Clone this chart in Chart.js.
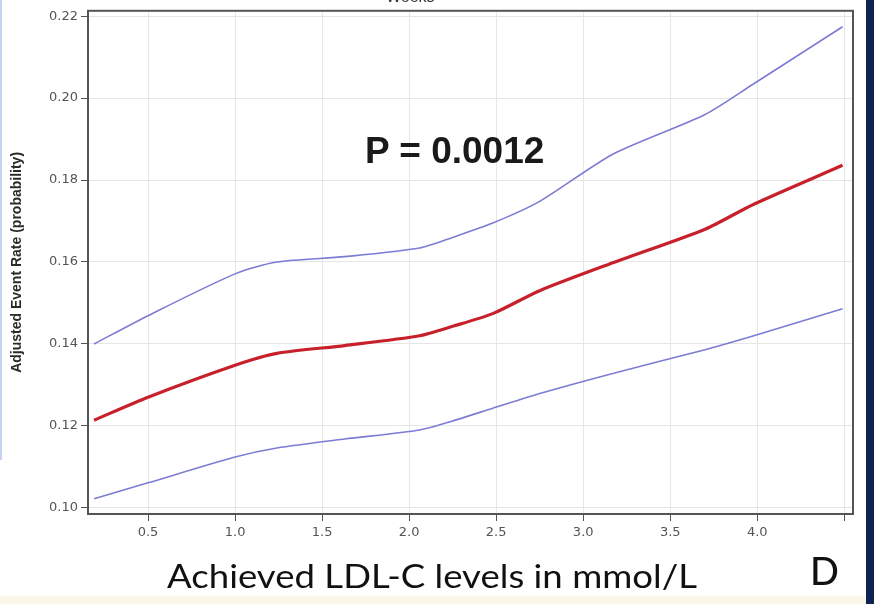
<!doctype html>
<html lang="en">
<head>
<meta charset="utf-8">
<title>Adjusted event rate vs achieved LDL-C</title>
<style>
  *{box-sizing:border-box;margin:0;padding:0}
  html,body{width:874px;height:604px;overflow:hidden;background:#fff}
  body{position:relative;font-family:'Liberation Sans',Arial,sans-serif}
  #chart{position:absolute;left:0;top:0}
  .txt{position:absolute;white-space:nowrap;line-height:1}
  #weeks{left:386px;top:-11px;font-size:16px;color:#333}
  #pval{left:365px;top:132px;font-size:37px;font-weight:700;color:#1a1a1a}
  #xtitle{left:167px;top:560px;font-family:Lato,sans-serif;font-size:32px;color:#111;transform-origin:0 0}
  #letter{left:810px;top:551px;font-family:Lato,sans-serif;font-size:38px;font-weight:500;color:#111}
  .navy{position:absolute;left:866px;top:0;width:8px;height:604px;background:#0d2352}
  .cream{position:absolute;left:0;top:596px;width:866px;height:8px;background:#fbf8ea}
  .edge{position:absolute;left:0;top:0;width:2px;height:460px;background:#c5d3ec}
</style>
</head>
<body>

<canvas id="chart" width="874" height="604"></canvas>
<div class="edge"></div>
<div class="navy"></div>
<div class="cream"></div>
<div class="txt" id="weeks">Weeks</div>
<div class="txt" id="pval">P = 0.0012</div>
<div class="txt" id="xtitle">Achieved LDL-C levels in mmol/L</div>
<div class="txt" id="letter">D</div>

<script src="https://cdn.jsdelivr.net/npm/chart.js"></script>
<script>
// achieved LDL-C (mmol/L) and adjusted event rates
const ldl   = [0.19, 0.5, 1.0, 1.24, 1.63, 2.06, 2.25, 2.48, 2.75, 3.17, 3.70, 3.98, 4.49];
const upper = [0.1400, 0.1469, 0.1571, 0.1600, 0.1613, 0.1634, 0.1660, 0.1695, 0.1748, 0.1863, 0.1960, 0.2035, 0.2174];
const rate  = [0.1214, 0.1270, 0.1348, 0.1377, 0.1396, 0.1420, 0.1443, 0.1474, 0.1530, 0.1598, 0.1680, 0.1741, 0.1836];
const lower = [0.1022, 0.1061, 0.1124, 0.1146, 0.1168, 0.1190, 0.1212, 0.1243, 0.1279, 0.1328, 0.1386, 0.1420, 0.1486];
const xTicks = [0.5, 1.0, 1.5, 2.0, 2.5, 3.0, 3.5, 4.0, 4.5];
const yTicks = [0.10, 0.12, 0.14, 0.16, 0.18, 0.20, 0.22];

const pts = ys => ldl.map((x,i)=>({x, y:ys[i]}));
const band = {borderColor:'#7c7cd4', borderWidth:1.6, pointRadius:0, tension:0.25, fill:false};

const frame = { id:'frame', afterDraw(c){
  const {ctx, chartArea:a} = c;
  ctx.save(); ctx.strokeStyle='#555'; ctx.lineWidth=2;
  ctx.strokeRect(a.left, a.top, a.right-a.left, a.bottom-a.top);
  ctx.restore();
}};

const tickFont = {family:'DejaVu Sans', size:13};

new Chart(document.getElementById('chart'), {
  type:'line',
  data:{datasets:[
    Object.assign({label:'Upper', data:pts(upper)}, band),
    {label:'Adjusted rate', data:pts(rate), borderColor:'#c8202a', borderWidth:3.2, pointRadius:0, tension:0.25, fill:false},
    Object.assign({label:'Lower', data:pts(lower)}, band)
  ]},
  options:{
    responsive:false, animation:false,
    layout:{padding:{top:9, right:21, left:0, bottom:0}},
    plugins:{legend:{display:false}, tooltip:{enabled:false}},
    scales:{
      x:{type:'linear', min:0.155, max:4.55,
        afterBuildTicks(s){ s.ticks = xTicks.map(v=>({value:v})); },
        afterFit(s){ s.height = 90; },
        ticks:{font:tickFont, color:'#555', padding:4, maxRotation:0,
          callback:v => v===4.5 ? '' : v.toFixed(1)},
        grid:{color:'#e6e6e6', tickColor:'#555', tickLength:7},
        border:{display:true, color:'#555', width:2}
      },
      y:{min:0.0985, max:0.2213,
        afterBuildTicks(s){ s.ticks = yTicks.map(v=>({value:v})); },
        afterFit(s){ s.width = 88; },
        ticks:{font:tickFont, color:'#555', padding:3, callback:v => v.toFixed(2)},
        grid:{color:'#e6e6e6', tickColor:'#555', tickLength:7},
        border:{display:true, color:'#555', width:2},
        title:{display:true, text:'Adjusted Event Rate (probability)', color:'#2a2a2a',
          font:{family:'Liberation Sans', size:14, weight:'bold'}, padding:{top:9, bottom:0}}
      }
    }
  },
  plugins:[frame]
});

// stretch the x title to the width it has in the figure
const xt = document.getElementById('xtitle');
xt.style.transform = 'scaleX(' + (530 / xt.getBoundingClientRect().width) + ')';
</script>
</body>
</html>
